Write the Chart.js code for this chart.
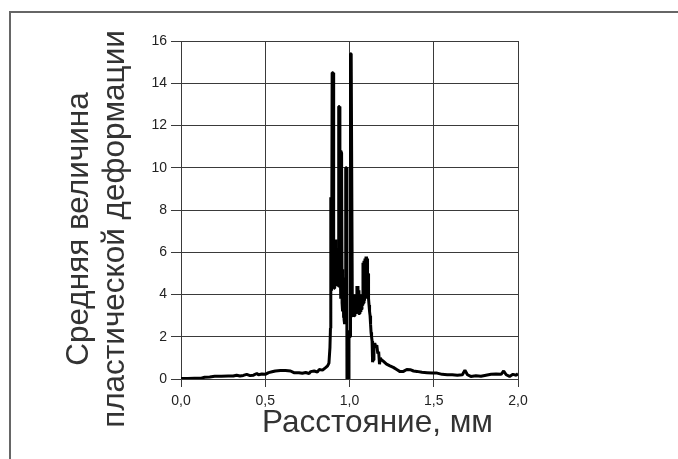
<!DOCTYPE html>
<html>
<head>
<meta charset="utf-8">
<script src="https://cdn.jsdelivr.net/npm/chart.js@4/dist/chart.umd.min.js"></script>
<style>
  html, body { margin: 0; padding: 0; background: #fff; }
  #wrap { position: relative; width: 678px; height: 459px; overflow: hidden; background: #fff; }
  #frame { position: absolute; left: 9px; top: 11px; width: 700px; height: 500px; border: 2px solid #666; box-sizing: border-box; }
  #c { position: absolute; left: 0; top: 0; }
</style>
</head>
<body>
<div id="wrap">
  <div id="frame"></div>
  <canvas id="c" width="678" height="459"></canvas>
</div>
<script>
// Axis titles and ticks
const yTitleLines = ["Средняя величина", "пластической деформации"];
const xTitle = "Расстояние, мм";
const xTicks = [0, 0.5, 1.0, 1.5, 2.0];
const yTicks = [0, 2, 4, 6, 8, 10, 12, 14, 16];

// Series: distance (mm)
const distance = [
  0.00, 0.04, 0.08, 0.12, 0.14, 0.17, 0.20, 0.24, 0.28, 0.31,
  0.33, 0.35, 0.37, 0.39, 0.41, 0.43, 0.45, 0.46, 0.48, 0.50,
  0.52, 0.54, 0.56, 0.59, 0.62, 0.65, 0.67, 0.70, 0.72, 0.74,
  0.76, 0.77, 0.79, 0.81, 0.82, 0.84, 0.86, 0.87, 0.878, 0.884,
  0.887, 0.889, 0.891, 0.893, 0.895, 0.897, 0.900, 0.903, 0.905, 0.907,
  0.909, 0.911, 0.913, 0.915, 0.917, 0.919, 0.921, 0.923, 0.925, 0.927,
  0.929, 0.931, 0.933, 0.936, 0.940, 0.943, 0.945, 0.947, 0.949, 0.953,
  0.956, 0.958, 0.960, 0.962, 0.964, 0.966, 0.968, 0.970, 0.972, 0.974,
  0.976, 0.979, 0.983, 0.985, 0.990, 0.994, 0.997, 1.000, 1.003, 1.006,
  1.010, 1.014, 1.017, 1.020, 1.023, 1.026, 1.029, 1.032, 1.035, 1.038,
  1.041, 1.044, 1.047, 1.050, 1.053, 1.056, 1.059, 1.062, 1.065, 1.068,
  1.071, 1.074, 1.077, 1.080, 1.083, 1.086, 1.089, 1.092, 1.095, 1.098,
  1.101, 1.104, 1.107, 1.110, 1.113, 1.116, 1.119, 1.122, 1.125, 1.128,
  1.131, 1.134, 1.137, 1.140, 1.145, 1.150, 1.156, 1.162, 1.168, 1.173,
  1.178, 1.183, 1.190, 1.20, 1.22, 1.24, 1.26, 1.28, 1.30, 1.32,
  1.34, 1.36, 1.38, 1.40, 1.43, 1.46, 1.49, 1.52, 1.55, 1.58,
  1.61, 1.64, 1.67, 1.685, 1.70, 1.72, 1.75, 1.78, 1.81, 1.84,
  1.87, 1.90, 1.915, 1.93, 1.95, 1.97, 1.99, 2.00
];
// Series: mean plastic strain
const strain = [
  0.02, 0.02, 0.03, 0.04, 0.08, 0.10, 0.13, 0.13, 0.14, 0.14,
  0.18, 0.14, 0.17, 0.22, 0.16, 0.18, 0.26, 0.20, 0.24, 0.22,
  0.30, 0.34, 0.38, 0.40, 0.40, 0.38, 0.30, 0.30, 0.27, 0.31,
  0.26, 0.35, 0.38, 0.33, 0.45, 0.42, 0.55, 0.62, 0.75, 1.50,
  2.40, 8.60, 4.20, 6.40, 4.50, 14.50, 14.50, 14.50, 4.40, 6.60,
  4.30, 6.50, 4.50, 6.60, 4.40, 6.20, 4.50, 6.00, 4.40, 5.80,
  4.60, 6.20, 4.40, 12.90, 12.90, 4.40, 5.60, 3.80, 10.80, 10.70,
  3.60, 5.20, 3.20, 4.80, 2.90, 4.60, 2.80, 4.20, 2.60, 3.80,
  2.60, 10.00, 10.00, 0.00, 0.00, 0.00, 2.00, 2.30, 2.00, 15.40,
  15.40, 15.40, 3.00, 4.00, 3.10, 3.60, 3.00, 3.80, 3.10, 4.00,
  3.20, 4.40, 3.20, 4.40, 3.10, 4.20, 3.10, 3.80, 3.20, 3.60,
  3.30, 4.00, 3.50, 5.50, 3.60, 5.60, 3.70, 5.70, 3.80, 5.80,
  3.80, 5.70, 4.00, 5.00, 3.80, 3.50, 3.20, 3.00, 2.60, 2.20,
  2.00, 1.80, 0.80, 0.90, 1.60, 1.70, 1.50, 1.60, 1.20, 1.30,
  0.70, 1.00, 0.90, 0.85, 0.70, 0.62, 0.55, 0.45, 0.35, 0.36,
  0.45, 0.44, 0.38, 0.36, 0.32, 0.30, 0.28, 0.28, 0.22, 0.20,
  0.20, 0.18, 0.20, 0.42, 0.20, 0.12, 0.15, 0.13, 0.18, 0.22,
  0.24, 0.22, 0.38, 0.20, 0.12, 0.22, 0.18, 0.25
];

const gridColor = '#3a3a3a';
const tickFont = { family: '"Liberation Sans", Arial, sans-serif', size: 14 };
const titleFont = '31.5px "Liberation Sans", Arial, sans-serif';

const titlesPlugin = {
  id: 'axisTitles',
  afterDraw(chart) {
    const ctx = chart.ctx;
    ctx.save();
    ctx.fillStyle = '#333';
    ctx.font = titleFont;
    ctx.textAlign = 'center';
    ctx.textBaseline = 'alphabetic';
    ctx.fillText(xTitle, 377.5, 432);
    ctx.translate(88, 229);
    ctx.rotate(-Math.PI / 2);
    ctx.fillText(yTitleLines[0], 0, 0);
    ctx.fillText(yTitleLines[1], 0, 36);
    ctx.restore();
  }
};

new Chart(document.getElementById('c'), {
  type: 'line',
  data: {
    datasets: [{
      data: distance.map((x, i) => ({ x: x, y: strain[i] })),
      borderColor: '#000',
      borderWidth: 3,
      borderJoinStyle: 'bevel',
      pointRadius: 0,
      tension: 0,
      fill: false
    }]
  },
  options: {
    responsive: false,
    animation: false,
    devicePixelRatio: 1,
    layout: { padding: { left: 0, top: 41, right: 160, bottom: 0 } },
    plugins: { legend: { display: false }, tooltip: { enabled: false } },
    scales: {
      x: {
        type: 'linear',
        min: 0, max: 2,
        afterBuildTicks(s) { s.ticks = xTicks.map(v => ({ value: v })); },
        afterFit(s) { s.height = 80; },
        ticks: {
          color: '#222',
          font: tickFont,
          padding: 6,
          maxRotation: 0,
          callback: v => v.toFixed(1).replace('.', ',')
        },
        grid: { color: gridColor, tickColor: gridColor, tickLength: 8, lineWidth: 1 },
        border: { color: gridColor, width: 1 }
      },
      y: {
        type: 'linear',
        min: 0, max: 16,
        afterBuildTicks(s) { s.ticks = yTicks.map(v => ({ value: v })); },
        afterFit(s) { s.width = 181; },
        ticks: { color: '#222', font: tickFont, padding: 4 },
        grid: { color: gridColor, tickColor: gridColor, tickLength: 10, lineWidth: 1 },
        border: { color: gridColor, width: 1 }
      }
    }
  },
  plugins: [titlesPlugin]
});
</script>
</body>
</html>
